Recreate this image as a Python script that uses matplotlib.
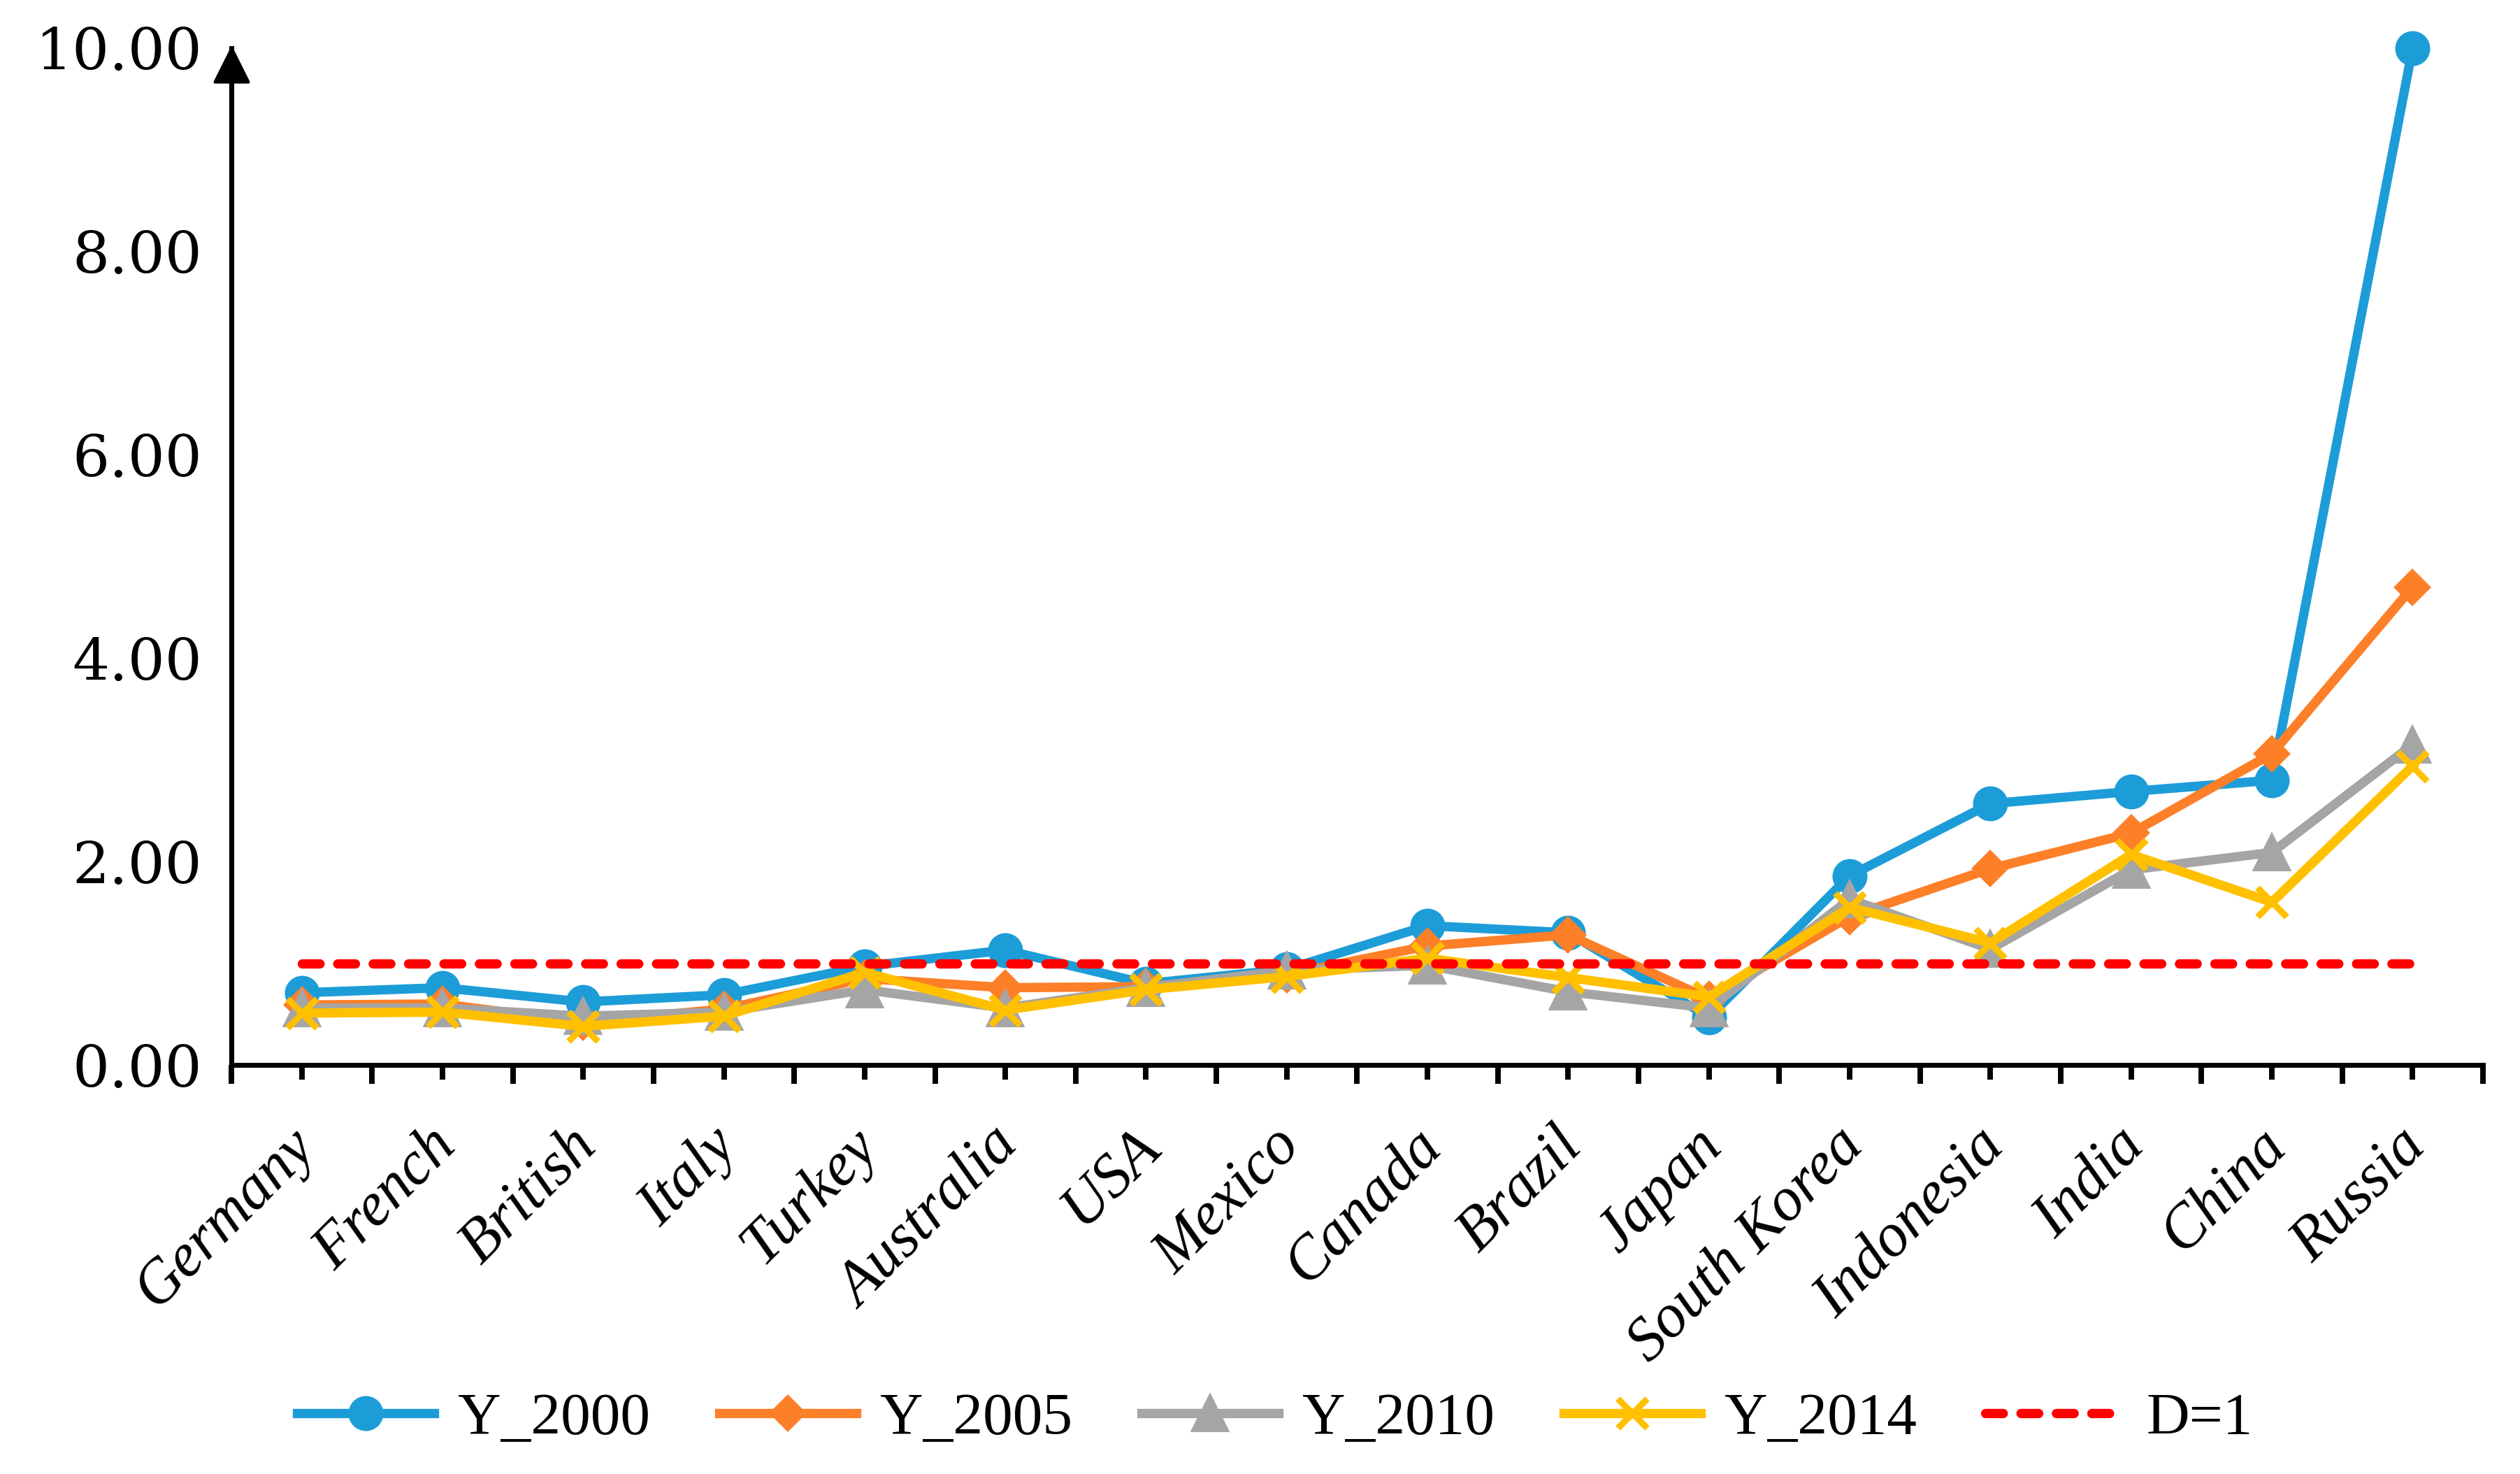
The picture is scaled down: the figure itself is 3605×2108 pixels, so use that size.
import matplotlib
matplotlib.use('Agg')
import matplotlib.pyplot as plt
import matplotlib.transforms as mtransforms
from matplotlib.path import Path
from matplotlib.ticker import FixedLocator, FormatStrFormatter
import numpy as np

countries = ["Germany", "French", "British", "Italy", "Turkey", "Australia", "USA", "Mexico",
             "Canada", "Brazil", "Japan", "South Korea", "Indonesia", "India", "China", "Russia"]

y_2000 = [0.71, 0.76, 0.62, 0.69, 0.97, 1.13, 0.80, 0.94, 1.37, 1.30, 0.47, 1.86, 2.57, 2.69, 2.80, 10.00]
y_2005 = [0.59, 0.60, 0.42, 0.55, 0.85, 0.76, 0.77, 0.89, 1.17, 1.28, 0.65, 1.46, 1.93, 2.28, 3.06, 4.70]
y_2010 = [0.56, 0.56, 0.48, 0.52, 0.74, 0.56, 0.76, 0.93, 0.98, 0.72, 0.56, 1.63, 1.14, 1.92, 2.09, 3.15]
y_2014 = [0.51, 0.52, 0.38, 0.48, 0.91, 0.54, 0.74, 0.87, 1.05, 0.86, 0.67, 1.55, 1.20, 2.07, 1.60, 2.94]
d_line = [1.0] * len(countries)

plt.rcParams['font.family'] = ['DejaVu Serif']

fig = plt.figure(figsize=(3605 / 300, 2108 / 300), dpi=300)
ax = fig.add_axes([0.0918, 0.2775, 0.9853 - 0.0918, 0.9673 - 0.2775])

x = np.arange(len(countries))

ax.plot(x, y_2000, color='#1D9DD8', lw=3.2, marker='o', ms=11, label='Y_2000', clip_on=False)
ax.plot(x, y_2005, color='#FD7F28', lw=3.2, marker='D', ms=8, label='Y_2005', clip_on=False)
ax.plot(x, y_2010, color='#A5A5A5', lw=3.2, marker='^', ms=12, label='Y_2010', clip_on=False)
ax.plot(x, y_2014, color='#FFC000', lw=3.2, marker='x', ms=10, mew=2.2, label='Y_2014', clip_on=False)
ax.plot(x, d_line, color='#FF0000', lw=3.2, dashes=(1.9, 1.9), dash_capstyle='round', label='D=1')

ax.set_xlim(-0.5, len(countries) - 0.5)
ax.set_ylim(0, 10)

# axes look
for s in ['top', 'right']:
    ax.spines[s].set_visible(False)
ax.spines['left'].set_linewidth(1.7)
ax.spines['bottom'].set_linewidth(1.7)

# arrow at top of y axis
arrow = Path([(0, 0), (-0.5, -1), (0.5, -1), (0, 0)],
             [Path.MOVETO, Path.LINETO, Path.LINETO, Path.CLOSEPOLY])
ax.plot(0, 1, marker=arrow, ms=23, color='black', transform=ax.transAxes, clip_on=False)

ax.yaxis.set_major_locator(FixedLocator([0, 2, 4, 6, 8, 10]))
ax.yaxis.set_major_formatter(FormatStrFormatter('%.2f'))
ax.tick_params(axis='y', length=0, pad=10, labelsize=20)

ax.set_xticks(x)
ax.set_xticks(np.arange(-0.5, len(countries)), minor=True)
ax.set_xticklabels(countries, rotation=45, ha='right', va='top', rotation_mode='anchor',
                   fontstyle='italic', fontsize=21, family='Liberation Serif')
ax.tick_params(axis='x', which='major', length=5, width=1.9, pad=13)
ax.tick_params(axis='x', which='minor', length=6.5, width=1.9)

# nudge the rotated labels so their ends sit by the ticks
shift = mtransforms.ScaledTranslation(-22 / 300, 0, fig.dpi_scale_trans)
for lab in ax.get_xticklabels():
    lab.set_transform(lab.get_transform() + shift)

fig.legend(loc='center', bbox_to_anchor=(0.506, 0.037), ncol=5, frameon=False,
           prop={'family': 'Liberation Serif', 'size': 20.5},
           handlelength=2.3, handletextpad=0.4, columnspacing=1.15)

fig.savefig('out.png', dpi=300)
